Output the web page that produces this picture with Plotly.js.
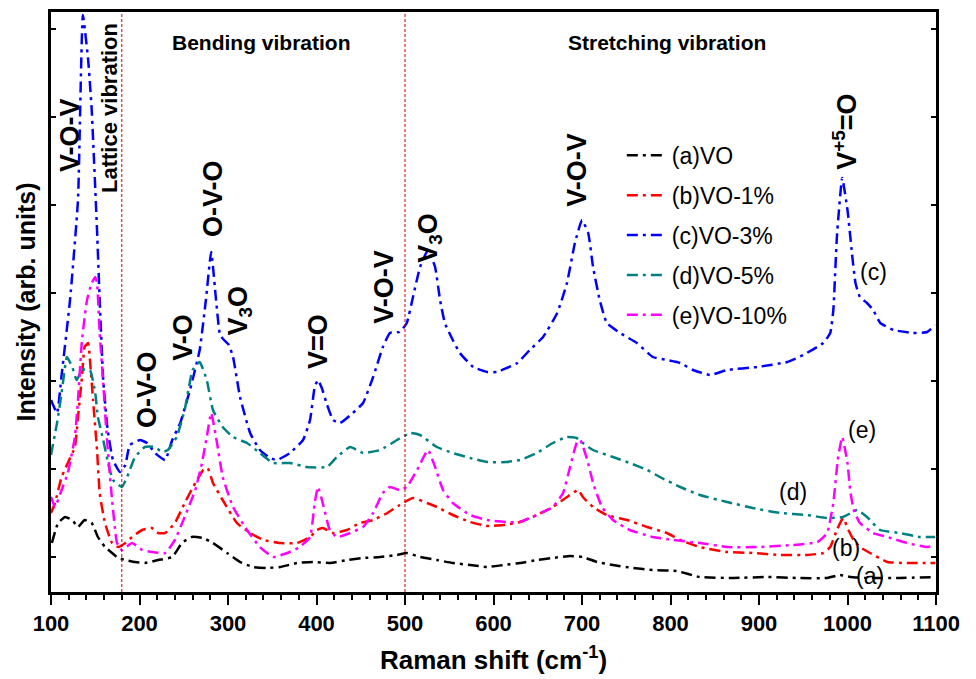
<!DOCTYPE html>
<html>
<head>
<meta charset="utf-8">
<script src="https://cdn.plot.ly/plotly-3.0.1.min.js"></script>
<style>html,body{margin:0;padding:0;background:#fff;}#chart{width:976px;height:679px;}</style>
</head>
<body>
<div id="chart"></div>
<script>
// Raman shift (cm^-1) and intensity (arb. units) for each sample
const xA = [101,108,116,124,130.5,138,146,153,161,169,176,184,195,206,221,237,248,259,272,283,299,313.6,328,344,359,378,396,415,434.5,452.6,472,491,502,517,536,554,573.5,593,611.5,630,649,667,686.5,701,717,735,757.6,780,807,833,871,909,946,977,991.5,1003,1022,1059,1099];
const yA = [49,69,75,72,65,72,69,55,45,39,34,32,30,29,32,35,49,55,54,49,39,30,25,24,25,29,30,29,32,34,35,37,39,35,32,29,27,25,27,29,32,34,36,35,30,27,24,22,21,15,14,15,14,14,17,15,14,14,15];

const xB = [100,104.5,112,119,127,130.5,135,138,142,144,147.5,152,155,161,169,176,184,191.5,203,214,221,229,240,251,263,272,277,283,294,310,325,340,359,378,392.7,400.6,407,418.7,434.5,449,464,480,494,509,525,536,554,573.5,593,611.5,630,649,667,683,695.6,701,712.5,728,751,773.5,796,811,833,864,893,924,954,972.6,980.5,988,995,1001,1007,1014,1025.5,1045,1067,1099];
const yB = [79,89,115,129,145,175,215,245,249,232,192,142,99,69,49,45,49,55,62,64,59,59,69,89,109,122,124,109,92,69,59,52,49,49,55,62,64,59,62,69,72,79,87,94,89,85,77,70,66,67,70,77,85,95,102,95,85,77,72,65,59,52,45,40,39,37,37,39,45,62,74,62,52,45,39,30,29,29];

const xC = [100,106.8,112,121.5,130.5,136,142,146,152,155,159,164,170,178,184,189,200.6,208.5,217.5,229,237,246,257,268,275,281,286.5,291,295.5,301,305.7,313.6,325,336,347.5,355.4,370,384.8,392.7,398,401.7,406,412,418.7,426.6,441,452.6,464,475,483,494,502,509,517,526,534,539.6,545,554,562,577,593,604,615,627,641,656,672,683,692,700,707,712.5,720,728,743,762,780,796,811,825.5,845,864,898,932,950,972.6,980.5,984,988,994,1000,1005,1009,1014,1022,1029,1037,1052,1074,1090,1099];
const yC = [192,179,217,292,392,577,532,482,362,292,212,162,132,120,127,147,152,149,139,132,152,169,202,242,292,340,292,257,252,247,235,195,159,142,134,132,139,152,172,205,212,204,187,172,169,179,189,215,245,259,260,269,295,325,342,325,292,269,252,239,225,220,220,224,229,242,255,279,309,349,372,359,325,292,269,259,249,235,232,229,222,217,222,225,230,237,249,259,282,355,414,382,339,309,295,289,282,269,262,259,260,267];

const xD = [100,106.8,112,118,124,129,135,144,150,153,159,164.5,170,180,186,195,206,217.5,225.5,232,242,251,260,268,276,283,294,305.7,321.5,336,351,370,389,412,423,438,452.6,472,491,506,517,536,554,573.5,593,615,630,649,667,683,694,701,712.5,735,754,773.5,788,811,833,864,893,924,954,977,995,1011,1022,1037,1059,1082,1099];
const yD = [137,169,199,235,225,212,222,222,199,175,152,129,112,105,115,135,145,145,140,142,155,182,222,230,212,182,165,155,149,139,129,129,125,125,135,145,139,142,152,159,157,145,139,134,130,130,132,139,149,155,154,149,142,135,129,122,115,105,97,90,84,79,77,74,75,82,75,62,59,55,55];

const xE = [100,104.5,112,119,127,130.5,135,140.7,146,150,152,155,159,163,169,174.6,180,191.5,203,214,229,240,251,263,270.6,276,281,287.6,294,305.7,321.5,336,351,367,381,392.7,398,401.7,407,415,423,438,452.6,464,475,483,494,502,513.6,526,534,543,554,573.5,593,615,630,649,667,678.6,686.5,694,698,706,712.5,722.6,735,754,780,803,833,864,901,938.5,966,977,984,989,994,1000,1003,1007,1014,1029,1045,1067,1090,1099];
const yE = [95,85,102,119,155,192,252,292,309,315,309,259,209,155,92,49,42,49,42,40,39,52,75,102,129,155,179,149,115,85,62,45,35,39,45,55,89,105,89,62,55,59,65,79,99,105,102,105,122,142,125,102,89,77,72,70,70,77,85,99,125,149,152,132,109,85,72,62,55,52,49,45,45,47,50,59,89,132,155,129,102,82,69,59,55,49,45,47];

const seriesNames = ['(a)VO','(b)VO-1%','(c)VO-3%','(d)VO-5%','(e)VO-10%'];
const seriesColors = ['#000000','#ff0000','#0000ff','#008080','#ff00ff'];
const xs = [xA,xB,xC,xD,xE];
const ys = [yA,yB,yC,yD,yE];

const xTicks = [100,200,300,400,500,600,700,800,900,1000,1100];
const regionBounds = [180,500];

const peakLabels = [
  {t:'<b>V-O-V</b>', x:121.5, y:457},
  {t:'<b>O-V-O</b>', x:208.5, y:202},
  {t:'<b>V-O</b>', x:249, y:255},
  {t:'<b>O-V-O</b>', x:283, y:394},
  {t:'<b>V<sub>3</sub>O</b>', x:313, y:281},
  {t:'<b>V=O</b>', x:401.7, y:250},
  {t:'<b>V-O-V</b>', x:476, y:305},
  {t:'<b>V<sub>3</sub>O</b>', x:528, y:354},
  {t:'<b>V-O-V</b>', x:694, y:422},
  {t:'<b>V<sup>+5</sup>=O</b>', x:997, y:460}
];
const curveLabels = [
  {t:'(c)', x:1029, y:320},
  {t:'(e)', x:1016.5, y:162},
  {t:'(d)', x:938.5, y:100},
  {t:'(b)', x:998, y:44},
  {t:'(a)', x:1025.5, y:16}
];

const DASH = '11px,5px,3px,5px';
const traces = xs.map((x,i)=>({
  x:x, y:ys[i], type:'scatter', mode:'lines', name:seriesNames[i],
  legendgroup:'g'+i,
  line:{color:seriesColors[i], width:2.5, dash:DASH, shape:'spline', smoothing:0.4}
}));

const FONT = 'Liberation Sans, Arial, sans-serif';
const annotations = [];
peakLabels.forEach(p=>annotations.push({
  text:p.t, x:p.x, y:p.y, xref:'x', yref:'y', showarrow:false, textangle:-90,
  xanchor:'center', yanchor:'middle',
  font:{family:FONT, size:27, color:'#000'}
}));
annotations.push({text:'<b>Lattice vibration</b>', x:165.5, y:484, xref:'x', yref:'y', showarrow:false, textangle:-90,
  xanchor:'center', yanchor:'middle', font:{family:FONT, size:22, color:'#000'}});
annotations.push({text:'<b>Bending vibration</b>', x:338, y:550, xref:'x', yref:'y', showarrow:false,
  xanchor:'center', yanchor:'middle', font:{family:FONT, size:21, color:'#000'}});
annotations.push({text:'<b>Stretching vibration</b>', x:796, y:550, xref:'x', yref:'y', showarrow:false,
  xanchor:'center', yanchor:'middle', font:{family:FONT, size:21, color:'#000'}});
curveLabels.forEach(c=>annotations.push({
  text:c.t, x:c.x, y:c.y, xref:'x', yref:'y', showarrow:false,
  xanchor:'center', yanchor:'middle',
  font:{family:FONT, size:23, color:'#000'}
}));

const shapes = regionBounds.map(b=>({
  type:'line', xref:'x', yref:'paper', x0:b, x1:b, y0:0, y1:1,
  line:{color:'#cc0000', width:1, dash:'3px,2px'}
}));

const layout = {
  width:976, height:679,
  margin:{l:51, r:40, t:12, b:87},
  paper_bgcolor:'#fff', plot_bgcolor:'#fff',
  showlegend:true,
  legend:{x:0.645, y:0.79, xanchor:'left', yanchor:'top', bgcolor:'rgba(0,0,0,0)',
    font:{family:FONT, size:23, color:'#000'},
    tracegroupgap:7, itemwidth:40},
  xaxis:{
    range:[100,1100], tickvals:xTicks, ticktext:xTicks.map(String),
    ticks:'outside', ticklen:10, tickwidth:2, tickcolor:'#000',
    minor:{dtick:20, ticks:'outside', ticklen:5, tickwidth:2, tickcolor:'#000'},
    showline:true, linewidth:3, linecolor:'#000', mirror:true,
    showgrid:false, zeroline:false,
    tickfont:{family:FONT, size:22, color:'#000', weight:'bold'},
    title:{text:'<b>Raman shift (cm<sup>-1</sup>)</b>', standoff:16,
      font:{family:FONT, size:26, color:'#000'}}
  },
  yaxis:{
    range:[0,580], tick0:35, dtick:88, showticklabels:false,
    ticks:'inside', ticklen:5, tickwidth:2, tickcolor:'#000',
    showline:true, linewidth:3, linecolor:'#000', mirror:'ticks',
    showgrid:false, zeroline:false,
    title:{text:'<b>Intensity (arb. units)</b>', standoff:6,
      font:{family:FONT, size:25, color:'#000'}}
  },
  annotations:annotations,
  shapes:shapes
};

Plotly.newPlot('chart', traces, layout, {displayModeBar:false, staticPlot:true});
</script>
</body>
</html>
